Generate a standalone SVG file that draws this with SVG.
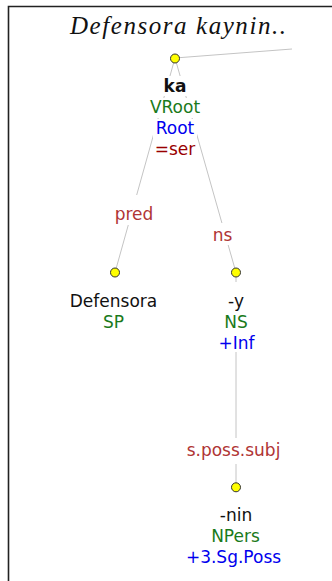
<svg xmlns="http://www.w3.org/2000/svg" width="332" height="581" viewBox="0 0 332 581">
<style>
.frame{stroke:#222;stroke-width:1.6;fill:none}
.edge{stroke:#c4c4c4;stroke-width:1;fill:none}
.bg{fill:#fff}
.pt{fill:#ffff00;stroke:#333;stroke-width:1}
text{font-family:"DejaVu Sans",Verdana,sans-serif;font-size:17px;text-anchor:middle}
.word{fill:#111}
.cat{fill:#1a7a1a}
.feat{fill:#0000ee}
.rel{fill:#990000}
.lab{fill:#b03535}
.title{font-family:"Liberation Serif","Times New Roman",serif;font-style:italic;font-size:25px;fill:#111}
</style>
<rect width="332" height="581" fill="#fff"/>
<path class="frame" d="M8.5 581 V6.5 H332"/>
<text class="title" x="178" y="33.5" textLength="216" lengthAdjust="spacing">Defensora kaynin..</text>
<g id="connectors">
<line class="edge" x1="175" y1="58" x2="292" y2="49"/>
<line class="edge" x1="175" y1="58" x2="115" y2="272.5"/>
<line class="edge" x1="175" y1="58" x2="236" y2="272.5"/>
<line class="edge" x1="236" y1="272.5" x2="236" y2="487"/>
<rect class="bg" x="112" y="195" width="44" height="30"/>
<text class="lab" x="134" y="219.5">pred</text>
<rect class="bg" x="211" y="223" width="23" height="22"/>
<text class="lab" x="222.5" y="240.5">ns</text>
<rect class="bg" x="185" y="438" width="97" height="26"/>
<text class="lab" x="233.5" y="456">s.poss.subj</text>
</g>
<g id="node-ka">
<circle class="pt" cx="175" cy="58.5" r="4.5"/>
<rect class="bg" x="162" y="76" width="26" height="20"/>
<rect class="bg" x="147" y="98" width="56" height="20"/>
<rect class="bg" x="153" y="119" width="44" height="20"/>
<rect class="bg" x="154" y="140" width="42" height="20"/>
<text class="word" x="175" y="91.5" font-weight="bold">ka</text>
<text class="cat" x="175" y="113">VRoot</text>
<text class="feat" x="175" y="134">Root</text>
<text class="rel" x="175" y="154.5">=ser</text>
</g>
<g id="node-defensora">
<circle class="pt" cx="115" cy="272.5" r="4.5"/>
<text class="word" x="113.5" y="307">Defensora</text>
<text class="cat" x="113.5" y="328">SP</text>
</g>
<g id="node-y">
<circle class="pt" cx="236" cy="272.5" r="4.5"/>
<rect class="bg" x="220" y="282" width="32" height="70"/>
<text class="word" x="236" y="307">-y</text>
<text class="cat" x="236" y="328">NS</text>
<text class="feat" x="236.5" y="348.5">+Inf</text>
</g>
<g id="node-nin">
<circle class="pt" cx="236" cy="487.3" r="4.5"/>
<text class="word" x="236" y="521">-nin</text>
<text class="cat" x="235.5" y="542">NPers</text>
<text class="feat" x="233.5" y="563">+3.Sg.Poss</text>
</g>
</svg>
